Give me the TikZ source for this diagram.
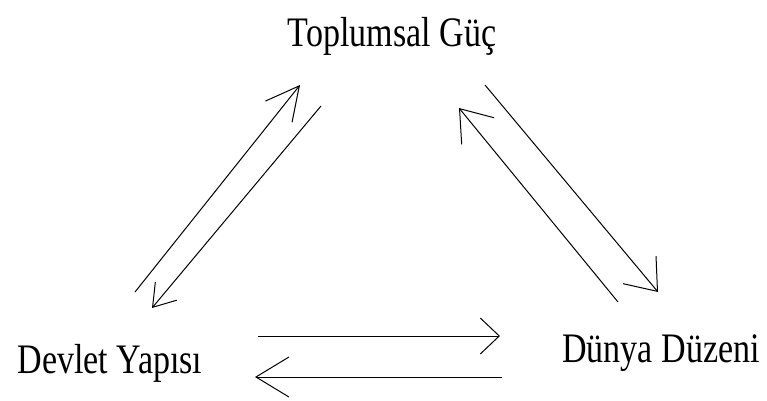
\documentclass[tikz,border=0pt]{standalone}
\usepackage{fontspec}
\setmainfont{Liberation Serif}
\usetikzlibrary{arrows.meta}

\begin{document}
\begin{tikzpicture}[x=1pt,y=1pt,line width=1pt,
    lbl/.style={inner sep=0pt,anchor=base,xscale=0.81,font=\fontsize{42}{42}\selectfont}]
         \useasboundingbox (0,0) rectangle (767,400);
         \node[lbl,name=toplum] at (392,353) {Toplumsal Güç};
         \node[lbl,name=devlet] at (110,27) {Devlet Yapısı};
         \node[lbl,name=dunya]  at (661,38) {Dünya Düzeni};

         \coordinate (dt1) at (135,108);
         \coordinate (dt2) at (300,315);
         \coordinate (td1) at (321,294);
         \coordinate (td2) at (152,92);
         \coordinate (ut1) at (618,98);
         \coordinate (ut2) at (459,292);
         \coordinate (tu1) at (485,315);
         \coordinate (tu2) at (658,108);
         \coordinate (du1) at (258,64);
         \coordinate (du2) at (500,64);
         \coordinate (ud1) at (502,23);
         \coordinate (ud2) at (255,23);

         \path
            (dt1) edge[-{Straight Barb[length=33pt,width=34pt]}] (dt2)
            (td1) edge[-{Straight Barb[length=21pt,width=28pt]}] (td2)
            (ut1) edge[-{Straight Barb[length=29pt,width=42pt]}] (ut2)
            (tu1) edge[-{Straight Barb[length=28pt,width=43pt]}] (tu2)
            (du1) edge[-{Straight Barb[length=19pt,width=36pt]}] (du2)
            (ud1) edge[-{Straight Barb[length=33pt,width=40pt]}] (ud2);
      \end{tikzpicture}
\end{document}
